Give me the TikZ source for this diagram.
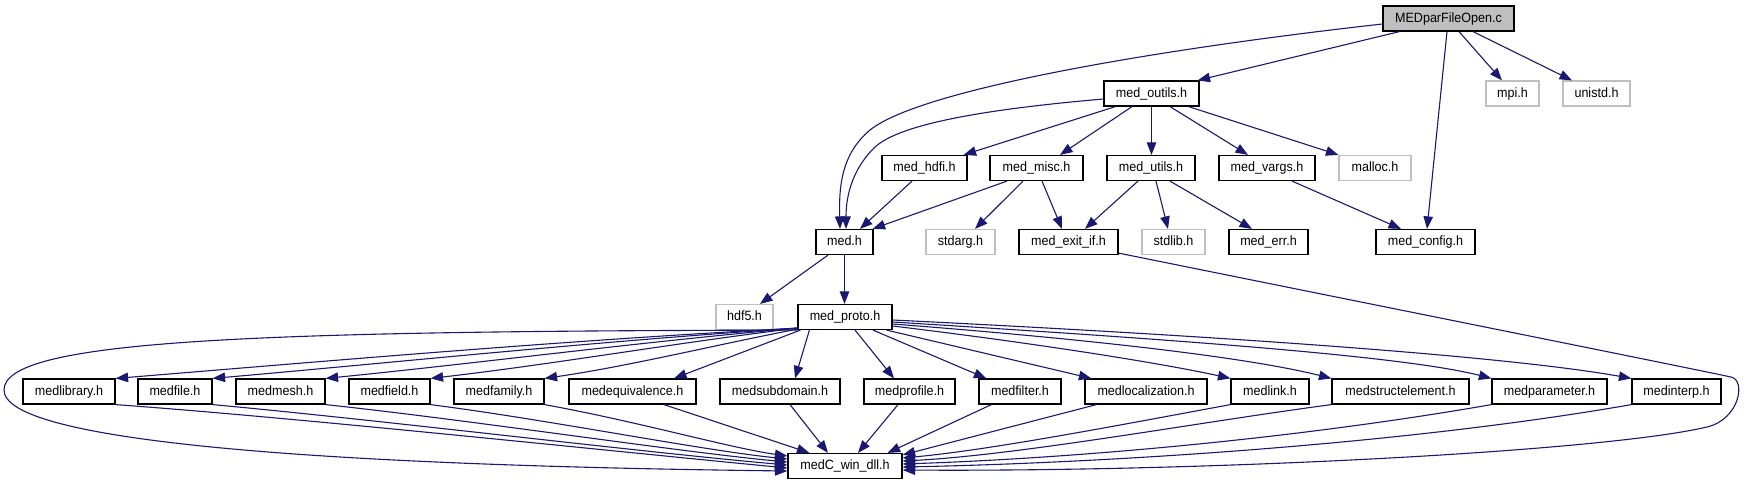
\documentclass[tikz,border=0pt]{standalone}
\usepackage{fontspec}
\setmainfont{Liberation Sans}[FakeStretch=0.93]
\usetikzlibrary{arrows.meta}
\definecolor{edgecol}{HTML}{191970}
\definecolor{greyb}{HTML}{BFBFBF}
\begin{document}
\begin{tikzpicture}[x=1pt,y=-1pt,
  hdr/.style={draw=black,fill=white,line width=1.2pt,minimum height=25pt,inner sep=0pt,
    text height=9.5pt,text depth=2.5pt,font=\fontsize{13.5}{15}\selectfont},
  syshdr/.style={hdr,draw=greyb},
  srcf/.style={hdr,fill=greyb},
  dep/.style={draw=edgecol,line width=1.1pt,-{Triangle[length=12.5pt,width=9.5pt]}}]
\useasboundingbox (0,0) rectangle (1745,485);
% nodes
\node[srcf,minimum width=131pt] (mpf) at (1448.5,18.5) {MEDparFileOpen.c};
\node[hdr,minimum width=95pt] (outils) at (1151.5,93.5) {med\_outils.h};
\node[syshdr,minimum width=53pt] (mpi) at (1512.5,93.5) {mpi.h};
\node[syshdr,minimum width=67pt] (unistd) at (1596.5,93.5) {unistd.h};
\node[hdr,minimum width=85pt] (hdfi) at (924.5,168) {med\_hdfi.h};
\node[hdr,minimum width=93pt] (misc) at (1036.5,168) {med\_misc.h};
\node[hdr,minimum width=88pt] (utils) at (1151,168) {med\_utils.h};
\node[hdr,minimum width=96pt] (vargs) at (1267,168) {med\_vargs.h};
\node[syshdr,minimum width=72pt] (malloc) at (1375,168) {malloc.h};
\node[hdr,minimum width=57pt] (medh) at (844.5,242) {med.h};
\node[syshdr,minimum width=69pt] (stdarg) at (960.5,242) {stdarg.h};
\node[hdr,minimum width=99pt] (exitif) at (1068.5,242) {med\_exit\_if.h};
\node[syshdr,minimum width=63pt] (stdlib) at (1173.5,242) {stdlib.h};
\node[hdr,minimum width=79pt] (err) at (1268.5,242) {med\_err.h};
\node[hdr,minimum width=99pt] (config) at (1425.5,242) {med\_config.h};
\node[syshdr,minimum width=57pt] (hdf5) at (744.5,317) {hdf5.h};
\node[hdr,minimum width=94pt] (proto) at (845,317) {med\_proto.h};
\node[hdr,minimum width=92pt] (lib) at (69,391.5) {medlibrary.h};
\node[hdr,minimum width=74pt] (file) at (175,391.5) {medfile.h};
\node[hdr,minimum width=89pt] (mesh) at (280.5,391.5) {medmesh.h};
\node[hdr,minimum width=81pt] (field) at (389.5,391.5) {medfield.h};
\node[hdr,minimum width=90pt] (family) at (499,391.5) {medfamily.h};
\node[hdr,minimum width=127pt] (equiv) at (632.5,391.5) {medequivalence.h};
\node[hdr,minimum width=120pt] (subdom) at (780,391.5) {medsubdomain.h};
\node[hdr,minimum width=91pt] (profile) at (909.5,391.5) {medprofile.h};
\node[hdr,minimum width=82pt] (filter) at (1020,391.5) {medfilter.h};
\node[hdr,minimum width=122pt] (local) at (1146,391.5) {medlocalization.h};
\node[hdr,minimum width=78pt] (link) at (1270,391.5) {medlink.h};
\node[hdr,minimum width=137pt] (struct) at (1400.5,391.5) {medstructelement.h};
\node[hdr,minimum width=115pt] (param) at (1549.5,391.5) {medparameter.h};
\node[hdr,minimum width=89pt] (interp) at (1676.5,391.5) {medinterp.h};
\node[hdr,minimum width=114pt] (dll) at (845,466) {medC\_win\_dll.h};
% edges from MEDparFileOpen.c
\draw[dep] ([yshift=-5.5pt]mpf.west) .. controls (1150,50) and (920,90) .. (870,130) .. controls (840,155) and (839,190) .. ([xshift=-4.5pt]medh.north);
\draw[dep] ([xshift=17pt]mpf.south west) -- ([xshift=-2pt]outils.north east);
\draw[dep] ([xshift=-1.5pt]mpf.south) -- ([xshift=1.5pt]config.north);
\draw[dep] ([xshift=10.5pt]mpf.south) -- ([xshift=-10.5pt]mpi.north);
\draw[dep] ([xshift=24.5pt]mpf.south) -- ([xshift=-24.5pt]unistd.north);
% edges from med_outils.h
\draw[dep] ([yshift=-5.5pt]outils.west) .. controls (1000,108) and (900,122) .. (874,148) .. controls (850,172) and (846,200) .. ([xshift=1.5pt]medh.north);
\draw[dep] ([xshift=12pt]outils.south west) -- ([xshift=-4pt]hdfi.north east);
\draw[dep] ([xshift=-19.5pt]outils.south) -- ([xshift=23.5pt]misc.north);
\draw[dep] (outils.south) -- (outils.south |- utils.north);
\draw[dep] ([xshift=18.5pt]outils.south) -- ([xshift=-19pt]vargs.north);
\draw[dep] ([xshift=-11pt]outils.south east) -- (malloc.north west);
% level 3
\draw[dep] ([xshift=-12.5pt]hdfi.south) -- ([xshift=15.5pt]medh.north);
\draw[dep] ([xshift=-29.5pt]misc.south) -- ([xshift=-1pt]medh.north east);
\draw[dep] ([xshift=-13.5pt]misc.south) -- ([xshift=14.5pt]stdarg.north);
\draw[dep] ([xshift=5.5pt]misc.south) -- ([xshift=-6.5pt]exitif.north);
\draw[dep] ([xshift=-13pt]utils.south) -- ([xshift=16.5pt]exitif.north);
\draw[dep] ([xshift=5pt]utils.south) -- ([xshift=-5.5pt]stdlib.north);
\draw[dep] ([xshift=19pt]utils.south) -- ([xshift=-16.5pt]err.north);
\draw[dep] ([xshift=25pt]vargs.south) -- ([xshift=-24.5pt]config.north);
% level 4
\draw[dep] ([xshift=-16.5pt]medh.south) -- ([xshift=15.5pt]hdf5.north);
\draw[dep] (medh.south) -- (medh.south |- proto.north);
\draw[dep] ([yshift=2pt]exitif.south east) .. controls (1400,310) and (1650,360) .. (1731,377) .. controls (1746,380) and (1740,419) .. (1707,427) .. controls (1600,452) and (1200,472) .. ([yshift=-4pt]dll.east);
% med_proto.h
\draw[dep] (proto.south west) .. controls (250,331) and (4,340) .. (4,390) .. controls (4,440) and (300,465) .. ([yshift=-5pt]dll.west);
\draw[dep] ([yshift=2pt]proto.south west) .. controls (570,340) and (340,360) .. (lib.north east);
\draw[dep] ([yshift=2pt]proto.south west) .. controls (600,341) and (400,362) .. (file.north east);
\draw[dep] ([yshift=2pt]proto.south west) .. controls (640,342) and (480,363) .. (mesh.north east);
\draw[dep] ([yshift=2pt]proto.south west) .. controls (675,343) and (555,364) .. (field.north east);
\draw[dep] ([yshift=1pt]proto.south west) .. controls (715,345) and (630,366) .. (family.north east);
\draw[dep] ([xshift=3pt]proto.south west) -- ([xshift=-22.5pt]equiv.north east);
\draw[dep] ([xshift=12pt]proto.south west) -- ([xshift=15pt]subdom.north);
\draw[dep] ([xshift=10pt]proto.south) -- ([xshift=-15.5pt]profile.north);
\draw[dep] ([xshift=28pt]proto.south) -- ([xshift=8pt]filter.north west);
\draw[dep] ([xshift=-6pt]proto.south east) -- ([xshift=7pt]local.north west);
\draw[dep] ([yshift=-9pt]proto.east) .. controls (1050,345) and (1170,365) .. (link.north west);
\draw[dep] ([yshift=-7pt]proto.east) .. controls (1100,340) and (1250,358) .. (struct.north west);
\draw[dep] ([yshift=-5pt]proto.east) .. controls (1150,338) and (1400,355) .. (param.north west);
\draw[dep] ([yshift=-3pt]proto.east) .. controls (1200,335) and (1500,355) .. (interp.north west);
% bottom row to medC_win_dll.h
\draw[dep] (lib.south east) .. controls (300,418) and (600,450) .. ([yshift=-2pt]dll.west);
\draw[dep] (file.south east) .. controls (380,420) and (640,452) .. ([yshift=1pt]dll.west);
\draw[dep] (mesh.south east) .. controls (470,420) and (680,452) .. ([yshift=4pt]dll.west);
\draw[dep] (field.south east) .. controls (550,420) and (700,450) .. ([yshift=7pt]dll.west);
\draw[dep] (family.south east) .. controls (640,422) and (730,448) .. ([yshift=10pt]dll.west);
\draw[dep] ([xshift=31.5pt]equiv.south) -- ([xshift=22pt]dll.north west);
\draw[dep] ([xshift=10pt]subdom.south) -- ([xshift=-17pt]dll.north);
\draw[dep] ([xshift=-11.5pt]profile.south) -- ([xshift=13pt]dll.north);
\draw[dep] ([xshift=13pt]filter.south west) -- ([xshift=-15pt]dll.north east);
\draw[dep] ([xshift=12pt]local.south west) -- ([yshift=-2pt]dll.north east);
\draw[dep] (link.south west) .. controls (1120,425) and (990,450) .. ([yshift=8pt]dll.east);
\draw[dep] (struct.south west) .. controls (1200,422) and (1020,455) .. ([yshift=5pt]dll.east);
\draw[dep] (param.south west) .. controls (1300,438) and (1080,458) .. ([yshift=2pt]dll.east);
\draw[dep] (interp.south west) .. controls (1400,445) and (1100,463) .. ([yshift=-1pt]dll.east);
\end{tikzpicture}
\end{document}
